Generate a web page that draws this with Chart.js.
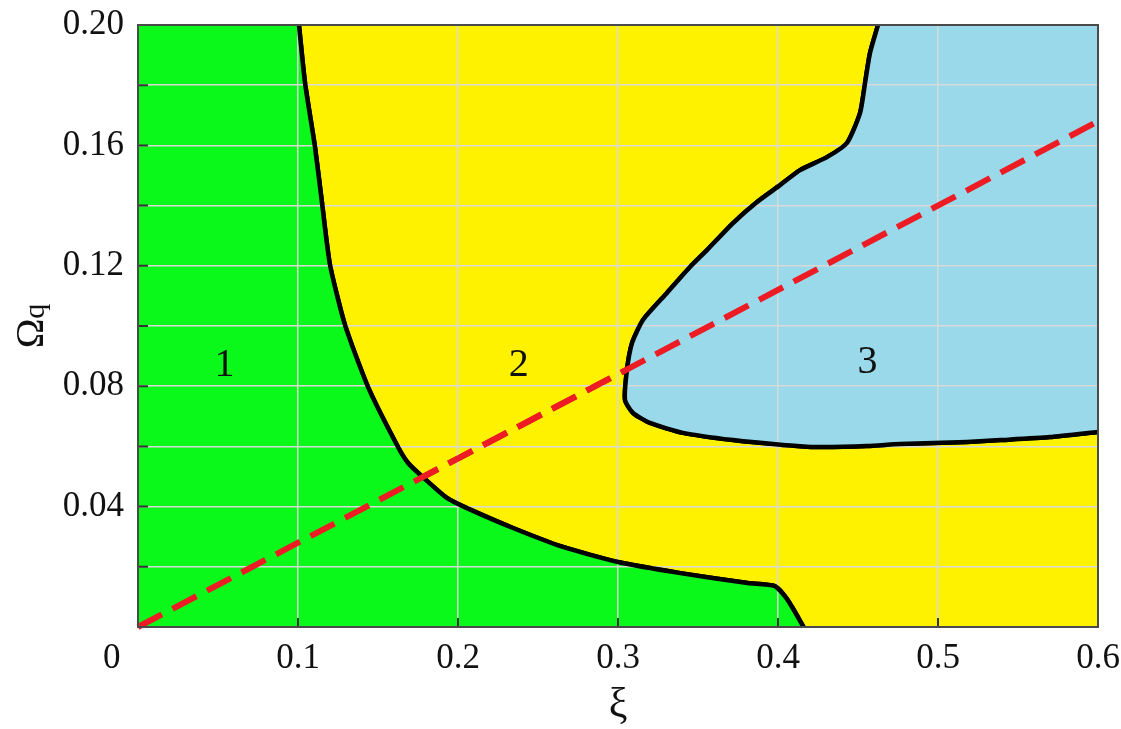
<!DOCTYPE html>
<html>
<head>
<meta charset="utf-8">
<script src="https://cdn.jsdelivr.net/npm/chart.js@4.4.1/dist/chart.umd.min.js"></script>
<style>
  html, body { margin: 0; padding: 0; background: #fff; }
  canvas { display: block; }
</style>
</head>
<body>
<canvas id="phase" width="1121" height="729"></canvas>
<script>
// Tick labels
const xTickLabels = ['0', '0.1', '0.2', '0.3', '0.4', '0.5', '0.6'];
const yTickValues = [0.04, 0.08, 0.12, 0.16, 0.20];
const yTickLabels = ['0.04', '0.08', '0.12', '0.16', '0.20'];

// Boundary between region 1 and region 2
const xiB12 = [0.1006, 0.1044, 0.1106, 0.1150, 0.1200, 0.1294, 0.1438, 0.1625, 0.1688, 0.1780,
               0.1930, 0.2056, 0.2344, 0.2656, 0.3000, 0.3390, 0.3810, 0.3980, 0.4060, 0.4160];
const omB12 = [0.2000, 0.1807, 0.1595, 0.1409, 0.1203, 0.1003, 0.0797, 0.0598, 0.0545, 0.0498,
               0.0429, 0.0395, 0.0329, 0.0266, 0.0216, 0.0179, 0.0146, 0.0136, 0.0090, 0.0000];

// Boundary of region 3
const xiB3 = [0.4625, 0.4575, 0.4544, 0.4513, 0.4431, 0.4306, 0.4138, 0.4013, 0.3869, 0.3719,
              0.3556, 0.3450, 0.3306, 0.3156, 0.3088, 0.3056, 0.3044, 0.3094, 0.3200, 0.3406,
              0.3719, 0.4031, 0.4244, 0.4556, 0.4763, 0.5180, 0.5390, 0.5700, 0.6000];
const omB3 = [0.2000, 0.1907, 0.1807, 0.1708, 0.1608, 0.1561, 0.1518, 0.1468, 0.1412, 0.1342,
              0.1252, 0.1196, 0.1110, 0.1020, 0.0944, 0.0854, 0.0754, 0.0711, 0.0678, 0.0645,
              0.0621, 0.0605, 0.0598, 0.0601, 0.0608, 0.0615, 0.0621, 0.0631, 0.0648];

// Dashed straight line
const xiLine = [0, 0.6];
const omLine = [0, 0.168];

// Region numbers
const regionNames = ['1', '2', '3'];
const regionXi = [0.054, 0.238, 0.456];
const regionOm = [0.087, 0.087, 0.088];

const GREEN = '#0af91b';
const YELLOW = '#fff200';
const BLUE = '#99d9ea';
const RED = '#ed1c24';
const FONT = "'Liberation Serif', 'Times New Roman', serif";

const pts = (xs, ys) => xs.map((x, i) => ({ x: x, y: ys[i] }));

// Region 1: everything left of / below the first boundary
const greenArea = [{ x: 0, y: 0.2 }].concat(pts(xiB12, omB12));
// Region 3: closed by the top-right corner
const blueArea = pts(xiB3, omB3).concat([{ x: 0.6, y: 0.2 }]);

const STROKED = [2, 3, 4];

const decor = {
  id: 'decor',
  beforeDraw(chart) {
    const { ctx, chartArea: a } = chart;
    ctx.save();
    ctx.fillStyle = YELLOW;
    ctx.fillRect(a.left, a.top, a.right - a.left, a.bottom - a.top);
    ctx.restore();
  },
  afterDraw(chart) {
    const { ctx, chartArea: a, scales } = chart;
    const xs = scales.x, ys = scales.y;

    // keep the curves above the grid
    ctx.save();
    ctx.beginPath();
    ctx.rect(a.left - 3, a.top - 3, a.right - a.left + 6, a.bottom - a.top + 6);
    ctx.clip();
    STROKED.forEach(i => chart.getDatasetMeta(i).dataset.draw(ctx, a));
    ctx.restore();

    // region numbers
    ctx.save();
    ctx.fillStyle = '#111';
    ctx.font = '40px ' + FONT;
    ctx.textAlign = 'center';
    ctx.textBaseline = 'middle';
    regionNames.forEach((t, i) => {
      ctx.fillText(t, xs.getPixelForValue(regionXi[i]), ys.getPixelForValue(regionOm[i]));
    });
    ctx.restore();

    // inner tick marks
    ctx.save();
    ctx.strokeStyle = '#333';
    ctx.lineWidth = 2;
    ctx.beginPath();
    ys.ticks.forEach(t => {
      const y = ys.getPixelForValue(t.value);
      ctx.moveTo(a.left, y);
      ctx.lineTo(a.left + 10, y);
    });
    xs.ticks.forEach(t => {
      const x = xs.getPixelForValue(t.value);
      ctx.moveTo(x, a.bottom);
      ctx.lineTo(x, a.bottom - 9);
    });
    ctx.stroke();

    // frame
    ctx.strokeStyle = '#4a4a4a';
    ctx.lineWidth = 2;
    ctx.strokeRect(a.left, a.top, a.right - a.left, a.bottom - a.top);
    ctx.restore();

    // vertical axis title: Omega with a smaller q
    ctx.save();
    ctx.translate(28, 326);
    ctx.rotate(-Math.PI / 2);
    ctx.fillStyle = '#111';
    ctx.textBaseline = 'alphabetic';
    ctx.font = '40px ' + FONT;
    const wO = ctx.measureText('Ω').width;
    ctx.font = '30px ' + FONT;
    const wq = ctx.measureText('q').width;
    const x0 = -(wO + wq) / 2;
    ctx.font = '40px ' + FONT;
    ctx.fillText('Ω', x0, 15);
    ctx.font = '30px ' + FONT;
    ctx.fillText('q', x0 + wO, 16);
    ctx.restore();
  }
};

new Chart(document.getElementById('phase'), {
  type: 'scatter',
  data: {
    datasets: [
      { data: greenArea, showLine: true, fill: 'origin', backgroundColor: GREEN,
        borderColor: 'rgba(0,0,0,0)', borderWidth: 0, pointRadius: 0, tension: 0 },
      { data: blueArea, showLine: true, fill: 'shape', backgroundColor: BLUE,
        borderColor: 'rgba(0,0,0,0)', borderWidth: 0, pointRadius: 0, tension: 0 },
      { data: pts(xiB12, omB12), showLine: true, fill: false, borderColor: '#000',
        borderWidth: 4.5, pointRadius: 0, tension: 0.2, borderJoinStyle: 'round' },
      { data: pts(xiB3, omB3), showLine: true, fill: false, borderColor: '#000',
        borderWidth: 4.5, pointRadius: 0, tension: 0.2, borderJoinStyle: 'round' },
      { data: pts(xiLine, omLine), showLine: true, fill: false, borderColor: RED,
        borderWidth: 6, borderDash: [27, 12], pointRadius: 0, tension: 0 }
    ]
  },
  options: {
    responsive: false,
    animation: false,
    events: [],
    layout: { padding: { top: 25, right: 23, left: 0, bottom: 0 } },
    plugins: { legend: { display: false }, tooltip: { enabled: false } },
    scales: {
      x: {
        type: 'linear', min: 0, max: 0.6,
        grid: { color: '#d9d9d9', lineWidth: 1.5, drawTicks: false, z: 1 },
        border: { display: false },
        ticks: {
          stepSize: 0.1, autoSkip: false, maxRotation: 0, padding: 11,
          color: '#111', font: { family: FONT, size: 35 },
          // the origin label sits left of the corner
          callback: (v, i) => i === 0 ? xTickLabels[0] + '\u2007\u2007\u2007' : xTickLabels[i]
        },
        title: { display: true, text: 'ξ', color: '#111',
                 font: { family: FONT, size: 42, lineHeight: 1 }, padding: { top: 0, bottom: 2 } },
        afterFit: s => { s.height = 102; s.paddingLeft = 0; s.paddingRight = 0; }
      },
      y: {
        type: 'linear', min: 0, max: 0.2,
        grid: { color: '#d9d9d9', lineWidth: 1.5, drawTicks: false, z: 1 },
        border: { display: false },
        ticks: {
          stepSize: 0.02, autoSkip: false, padding: 14,
          color: '#111', font: { family: FONT, size: 35 },
          callback: v => {
            const k = yTickValues.findIndex(t => Math.abs(t - v) < 1e-9);
            return k >= 0 ? yTickLabels[k] : '';
          }
        },
        afterFit: s => { s.width = 138; s.paddingTop = 0; s.paddingBottom = 0; }
      }
    }
  },
  plugins: [decor]
});
</script>
</body>
</html>
